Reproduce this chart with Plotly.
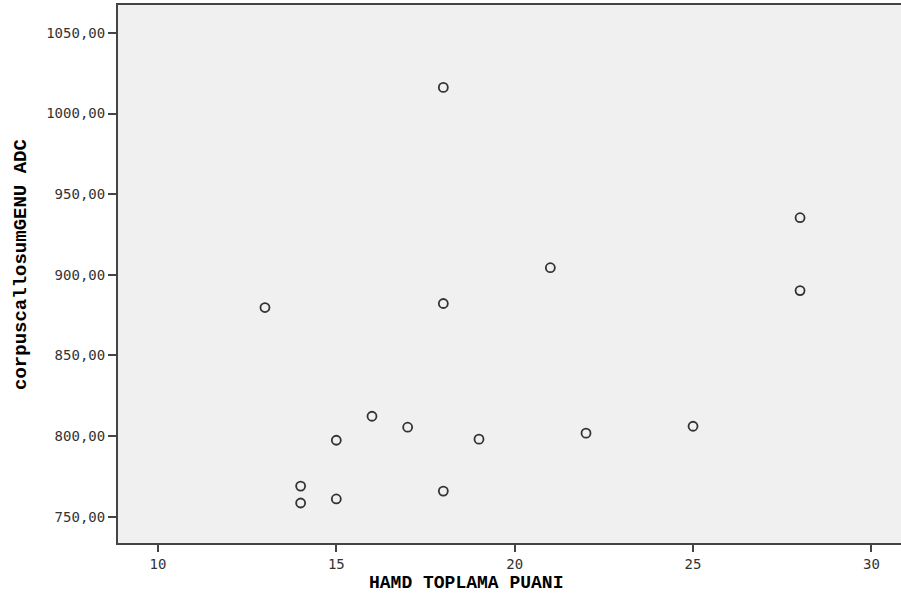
import plotly.graph_objects as go

hamd_score = [18, 28, 21, 28, 13, 18, 16, 17, 15, 19, 22, 25, 14, 14, 15, 18]
genu_adc = [1016.2, 935.4, 904.4, 890.2, 879.7, 882.2, 812.3, 805.5, 797.4, 798.1,
            801.8, 806.1, 769.0, 758.5, 761.0, 765.9]

x_ticks = [10, 15, 20, 25, 30]
y_ticks = [750, 800, 850, 900, 950, 1000, 1050]
y_tick_text = ["750,00", "800,00", "850,00", "900,00", "950,00", "1000,00", "1050,00"]

x_title = "HAMD TOPLAMA PUANI"
y_title = "corpuscallosumGENU ADC"

fig = go.Figure()
fig.add_trace(go.Scatter(
    x=hamd_score, y=genu_adc, mode="markers",
    marker=dict(symbol="circle-open", size=9, color="#333333", line=dict(width=1.8, color="#333333")),
    showlegend=False, hoverinfo="x+y"
))

tick_font = dict(family="DejaVu Sans Mono", size=14, color="#333333")
title_font = dict(family="Liberation Mono", size=18, color="black", weight="bold")
fig.update_layout(
    width=901, height=603,
    margin=dict(l=118, r=0, t=5, b=60, autoexpand=False),
    paper_bgcolor="white",
    plot_bgcolor="#F0F0F0",
    xaxis=dict(
        range=[8.88, 30.83], tickvals=x_ticks, ticktext=[str(v) for v in x_ticks],
        showgrid=False, zeroline=False, showline=True, linecolor="#444444", linewidth=2,
        mirror=True, ticks="outside", ticklen=7, tickwidth=2, tickcolor="#444444",
        tickfont=tick_font, automargin=False,
    ),
    yaxis=dict(
        range=[733.7, 1067.3], tickvals=y_ticks, ticktext=y_tick_text,
        showgrid=False, zeroline=False, showline=True, linecolor="#444444", linewidth=2,
        ticks="outside", ticklen=8, tickwidth=2, tickcolor="#444444",
        tickfont=tick_font, automargin=False,
    ),
    annotations=[
        dict(text=x_title, xref="paper", yref="paper", x=0.4444, y=-0.0735,
             xanchor="center", yanchor="middle", showarrow=False, font=title_font),
        dict(text=y_title, xref="paper", yref="paper", x=-0.1239, y=0.5186,
             xanchor="center", yanchor="middle", showarrow=False, textangle=-90,
             font=dict(family="Liberation Mono", size=19, color="black", weight="bold")),
    ],
)

fig.write_html(
    "out.html",
    config={"displayModeBar": False},
    post_script="document.body.style.margin='0';document.body.style.overflow='hidden';",
)
